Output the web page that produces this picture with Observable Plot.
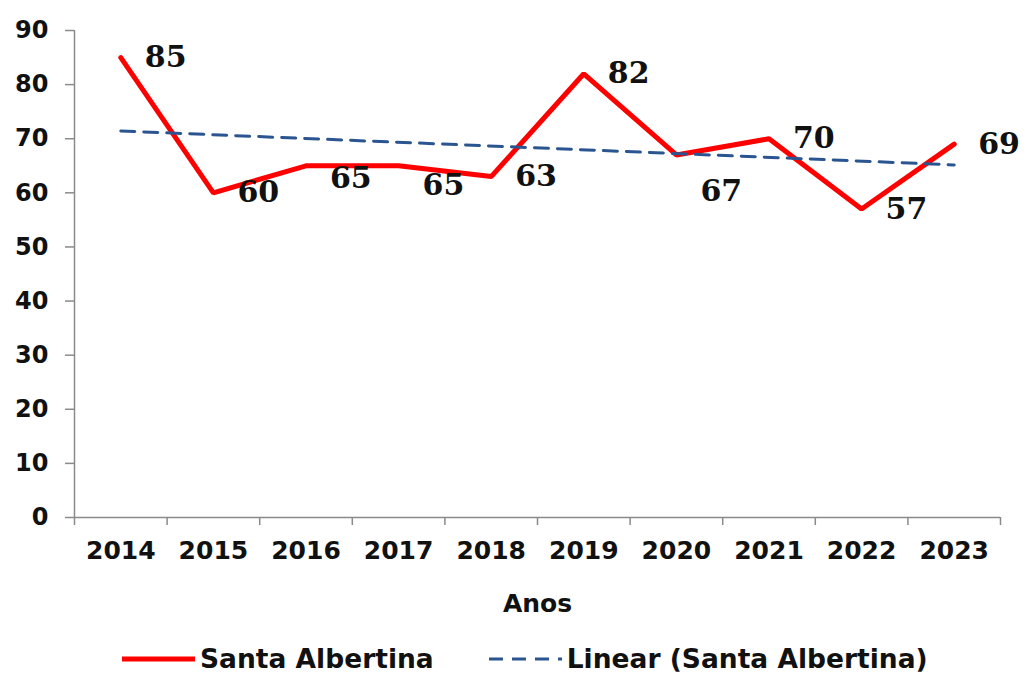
<!DOCTYPE html>
<html><head><meta charset="utf-8">
<script src="https://cdn.jsdelivr.net/npm/d3@7"></script>
<script src="https://cdn.jsdelivr.net/npm/@observablehq/plot@0.6"></script>
<style>
body{margin:0;background:#fff;}
#legend{display:flex;align-items:center;height:53px;padding-top:14px;box-sizing:border-box;padding-left:122px;font:bold 26.5px "DejaVu Sans",Verdana,sans-serif;color:#111;}
#legend svg{display:block;margin-right:5px;}
#legend span{white-space:nowrap;}
</style></head><body>
<div id="chart"></div>
<div id="legend"></div>
<script>
const years = [2014, 2015, 2016, 2017, 2018, 2019, 2020, 2021, 2022, 2023];
const values = [85, 60, 65, 65, 63, 82, 67, 70, 57, 69];
const yTicks = [0, 10, 20, 30, 40, 50, 60, 70, 80, 90];
const seriesName = "Santa Albertina";
const trendName = "Linear (Santa Albertina)";
const xTitle = "Anos";
// vertical nudges (px) applied to a few data labels, as in the reference
const labelNudge = [0, 0, 13, 20, 0, 0, 36, 0, 0, 0];

const data = years.map((year, i) => ({year, value: values[i], nudge: labelNudge[i]}));
const bounds = years.map(y => y - 0.5).concat([years[years.length - 1] + 0.5]);

const red = "#ff0000", blue = "#2a5590", gray = "#8a8a8a";
const axisFont = "DejaVu Sans, Verdana, sans-serif";

const labelMarks = Array.from(d3.group(data, d => d.nudge), ([nudge, rows]) =>
  Plot.text(rows, {x: "year", y: "value", text: d => String(d.value), textAnchor: "start", lineAnchor: "middle",
    dx: 24, dy: nudge, fontFamily: "DejaVu Serif, Liberation Serif, serif", fontWeight: "bold", fontSize: 30, fill: "#111"}));

const chart = Plot.plot({
  width: 1027, height: 625,
  marginLeft: 74, marginRight: 27, marginTop: 30, marginBottom: 108,
  style: {fontFamily: axisFont, fontWeight: "bold", fontSize: "24px", color: "#111", background: "#fff"},
  x: {domain: [bounds[0], bounds[bounds.length - 1]], axis: null},
  y: {domain: [yTicks[0], yTicks[yTicks.length - 1]], axis: null},
  marks: [
    Plot.ruleY([yTicks[0]], {stroke: gray, strokeWidth: 1.5}),
    Plot.ruleX([bounds[0]], {y1: yTicks[0], y2: yTicks[yTicks.length - 1], stroke: gray, strokeWidth: 1.5}),
    Plot.axisY({ticks: yTicks, tickSize: 9, tickPadding: 17, stroke: gray, strokeWidth: 1.5, fontSize: 24, label: null, tickFormat: d => String(d)}),
    Plot.axisX({ticks: bounds, tickSize: 8, stroke: gray, strokeWidth: 1.5, label: null, tickFormat: () => ""}),
    Plot.axisX({ticks: years, tickSize: 0, tickPadding: 24, fontSize: 25, label: null, tickFormat: d => String(d)}),
    Plot.text([xTitle], {frameAnchor: "bottom", lineAnchor: "middle", dy: 86, fontSize: 25, fontFamily: axisFont, fontWeight: "bold", fill: "#111"}),
    Plot.line(data, {x: "year", y: "value", stroke: red, strokeWidth: 5, strokeLinejoin: "miter"}),
    Plot.linearRegressionY(data, {x: "year", y: "value", ci: 0, stroke: blue, strokeWidth: 3, strokeDasharray: "14,9"}),
    ...labelMarks
  ]
});
document.getElementById("chart").appendChild(chart);

function swatch(color, dash, width) {
  const ns = "http://www.w3.org/2000/svg";
  const s = document.createElementNS(ns, "svg");
  s.setAttribute("width", 73); s.setAttribute("height", 12);
  const l = document.createElementNS(ns, "line");
  l.setAttribute("x1", 0); l.setAttribute("x2", 73); l.setAttribute("y1", 6); l.setAttribute("y2", 6);
  l.setAttribute("stroke", color); l.setAttribute("stroke-width", width);
  if (dash) l.setAttribute("stroke-dasharray", dash);
  s.appendChild(l);
  return s;
}
const legend = document.getElementById("legend");
[[seriesName, red, null, 5], [trendName, blue, "14,9", 3]].forEach(([name, c, dash, w], i) => {
  const sw = swatch(c, dash, w);
  if (i === 1) sw.style.marginLeft = "55px";
  legend.appendChild(sw);
  const t = document.createElement("span"); t.textContent = name; legend.appendChild(t);
});
</script>
</body></html>
